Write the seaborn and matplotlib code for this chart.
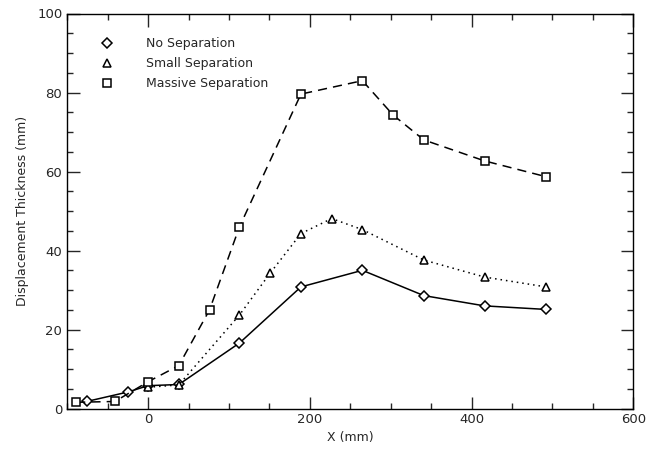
import numpy as np
import pandas as pd
import matplotlib
matplotlib.use('Agg')
import matplotlib.pyplot as plt
import seaborn as sns
from matplotlib.lines import Line2D
from matplotlib.ticker import MultipleLocator

# Данные
x_none = [-76, -25, 0, 38, 113, 189, 265, 341, 416, 492]
y_none = [1.8, 4.2, 5.8, 6.1, 16.6, 30.8, 35.0, 28.6, 26.0, 25.1]

x_small = [0, 38, 113, 151, 189, 227, 265, 341, 416, 492]
y_small = [5.4, 6.0, 23.7, 34.3, 44.3, 48.1, 45.3, 37.6, 33.3, 30.8]

x_massive = [-89, -41, 0, 38, 76, 113, 189, 265, 303, 341, 416, 492]
y_massive = [1.6, 1.8, 6.8, 10.9, 25.0, 46.0, 79.6, 83.0, 74.3, 68.0, 62.7, 58.7]

labels = ['No Separation', 'Small Separation', 'Massive Separation']

sns.set_style('ticks')
plt.rcParams['font.family'] = ['DejaVu Sans']

fig = plt.figure(figsize=(6.59, 4.5), dpi=100)
ax = fig.add_axes([0.102, 0.092, 0.859, 0.878])

common = dict(color='black', linewidth=1.1, markersize=5.5, markerfacecolor='white',
              markeredgecolor='black', markeredgewidth=1.1)
sns.lineplot(x=x_none, y=y_none, ax=ax, marker='D', linestyle='-', sort=False,
             **{**common, 'markersize': 5})
sns.lineplot(x=x_small, y=y_small, ax=ax, marker='^', sort=False, **common)
ax.lines[-1].set_dashes([1, 2.6])
sns.lineplot(x=x_massive, y=y_massive, ax=ax, marker='s', sort=False, **common)
ax.lines[-1].set_dashes([6, 4])

ax.set_xlim(-100, 600)
ax.set_ylim(0, 100)
ax.xaxis.set_major_locator(MultipleLocator(200))
ax.xaxis.set_minor_locator(MultipleLocator(50))
ax.yaxis.set_major_locator(MultipleLocator(20))
ax.yaxis.set_minor_locator(MultipleLocator(5))
ax.tick_params(which='both', direction='in', top=True, right=True, labelsize=9.5, width=1.0)
ax.tick_params(which='major', length=9)
ax.tick_params(which='minor', length=4.5)
for s in ax.spines.values():
    s.set_linewidth(1.0)
    s.set_color('black')

ax.set_xlabel('X (mm)', fontsize=9, labelpad=3)
ax.set_ylabel('Displacement Thickness (mm)', fontsize=9, labelpad=6)

handles = [Line2D([], [], marker=m, linestyle='none', markerfacecolor='white',
                  markeredgecolor='black', markersize=ms, markeredgewidth=1.1)
           for m, ms in [('D', 5), ('^', 5.5), ('s', 5.5)]]
ax.legend(handles, labels, loc='upper left', bbox_to_anchor=(0.04, 0.968), frameon=False,
          fontsize=9, handletextpad=2.6, labelspacing=0.55, handlelength=1.0)

fig.savefig('out.png', dpi=100)
